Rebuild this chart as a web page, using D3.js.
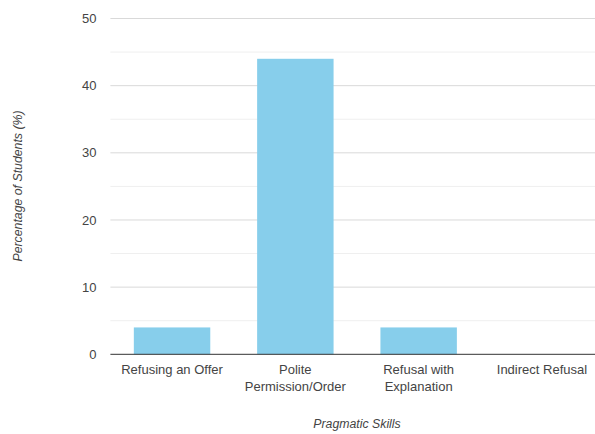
<!DOCTYPE html>
<html><head><meta charset="utf-8">
<script src="https://cdn.jsdelivr.net/npm/d3@7"></script>
<style>
body{margin:0;background:#fff;}
svg{display:block;font-family:"Liberation Sans",Arial,sans-serif;}
</style></head>
<body><svg id="c" width="595" height="434"></svg>
<script>
const categories = ["Refusing an Offer", "Polite\nPermission/Order", "Refusal with\nExplanation", "Indirect Refusal"];
const values = [4, 44, 4, 0];
const yTicks = [0, 10, 20, 30, 40, 50];
const yMinorTicks = [5, 15, 25, 35, 45];
const xTitle = "Pragmatic Skills";
const yTitle = "Percentage of Students (%)";

(function(){
const svg = d3.select("#c");
const pL = 110.4, pR = 603.6, pT = 18.5, pB = 354.3;
const x = d3.scaleBand().domain(categories).range([pL, pR]).paddingInner(0.38).paddingOuter(0.19);
const y = d3.scaleLinear().domain([0, 50]).range([pB, pT]);

// minor grid
svg.append("g").selectAll("line").data(yMinorTicks).join("line")
  .attr("x1", pL).attr("x2", 595).attr("y1", d => y(d)).attr("y2", d => y(d))
  .attr("stroke", "#efefef").attr("stroke-width", 1);
// major grid
svg.append("g").selectAll("line").data(yTicks.filter(d => d > 0)).join("line")
  .attr("x1", pL).attr("x2", 595).attr("y1", d => y(d)).attr("y2", d => y(d))
  .attr("stroke", "#d9d9d9").attr("stroke-width", 1);

// y axis labels
const yAxis = d3.axisLeft(y).tickValues(yTicks).tickSize(0).tickPadding(14);
const ga = svg.append("g").attr("transform", `translate(${pL},0)`).call(yAxis);
ga.select(".domain").remove();
ga.selectAll("text").attr("fill", "#444").attr("font-size", 13).attr("font-family", "Liberation Sans, Arial, sans-serif");

// bars
svg.append("g").selectAll("rect").data(values).join("rect")
  .attr("x", (d, i) => x(categories[i]))
  .attr("width", x.bandwidth())
  .attr("y", d => y(d))
  .attr("height", d => y(0) - y(d))
  .attr("fill", "#87CEEB");

// baseline
svg.append("line").attr("x1", pL).attr("x2", 595).attr("y1", y(0)).attr("y2", y(0))
  .attr("stroke", "#333").attr("stroke-width", 1);

// x labels
const xl = svg.append("g").selectAll("text").data(categories).join("text")
  .attr("x", d => x(d) + x.bandwidth() / 2)
  .attr("y", 373.5)
  .attr("text-anchor", "middle")
  .attr("fill", "#444").attr("font-size", 13);
xl.each(function(d){
  const lines = d.split("\n");
  d3.select(this).selectAll("tspan").data(lines).join("tspan")
    .attr("x", x(d) + x.bandwidth() / 2)
    .attr("dy", (l, i) => i === 0 ? 0 : 17.5)
    .text(l => l);
});

// axis titles
svg.append("text").attr("x", (pL + pR) / 2).attr("y", 428)
  .attr("text-anchor", "middle").attr("font-style", "italic")
  .attr("font-size", 12.3).attr("fill", "#444").text(xTitle);
svg.append("text").attr("transform", "translate(22,186) rotate(-90)")
  .attr("text-anchor", "middle").attr("font-style", "italic")
  .attr("font-size", 12.3).attr("fill", "#444").text(yTitle);
})();
</script></body></html>
